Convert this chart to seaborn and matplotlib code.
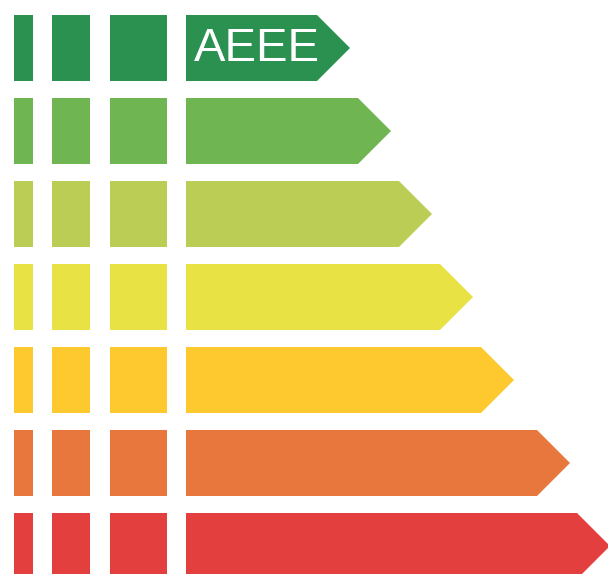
import matplotlib.pyplot as plt
from matplotlib.patches import Polygon
import seaborn as sns

# energy label style chart: 7 classes, three stripes + one arrow per row
classes = ["A", "B", "C", "D", "E", "F", "G"]
colors = ["#2a9150", "#6fb652", "#bccd56", "#e8e244", "#fdc92e", "#e8773d", "#e33f3e"]
arrow_tips = [350, 391, 432, 473, 514, 570, 610]
labels = ["AEEE", "", "", "", "", "", ""]

# stripe columns (left, width)
stripes = [(14, 19), (52, 38), (110, 57)]
arrow_left = 186
row_pitch = 83
row_height = 66
first_center = 48

sns.set_theme(style="white")
plt.rcParams["font.family"] = ["Liberation Sans", "DejaVu Sans"]

fig = plt.figure(figsize=(6.08, 5.74), dpi=100)
ax = fig.add_axes([0, 0, 1, 1])
ax.set_xlim(0, 608)
ax.set_ylim(574, 0)
ax.axis("off")

half = row_height / 2
for i, (cls, col, tip, lab) in enumerate(zip(classes, colors, arrow_tips, labels)):
    yc = first_center + i * row_pitch
    for left, width in stripes:
        ax.barh(yc, width, height=row_height, left=left, color=col, linewidth=0)
    body_end = tip - half
    pts = [(arrow_left, yc - half), (body_end, yc - half), (tip, yc),
           (body_end, yc + half), (arrow_left, yc + half)]
    ax.add_patch(Polygon(pts, closed=True, facecolor=col, edgecolor="none"))
    if lab:
        ax.text(arrow_left + 8, yc + 1, lab, color="white", fontsize=34,
                ha="left", va="center")

fig.savefig("out.png", dpi=100)
